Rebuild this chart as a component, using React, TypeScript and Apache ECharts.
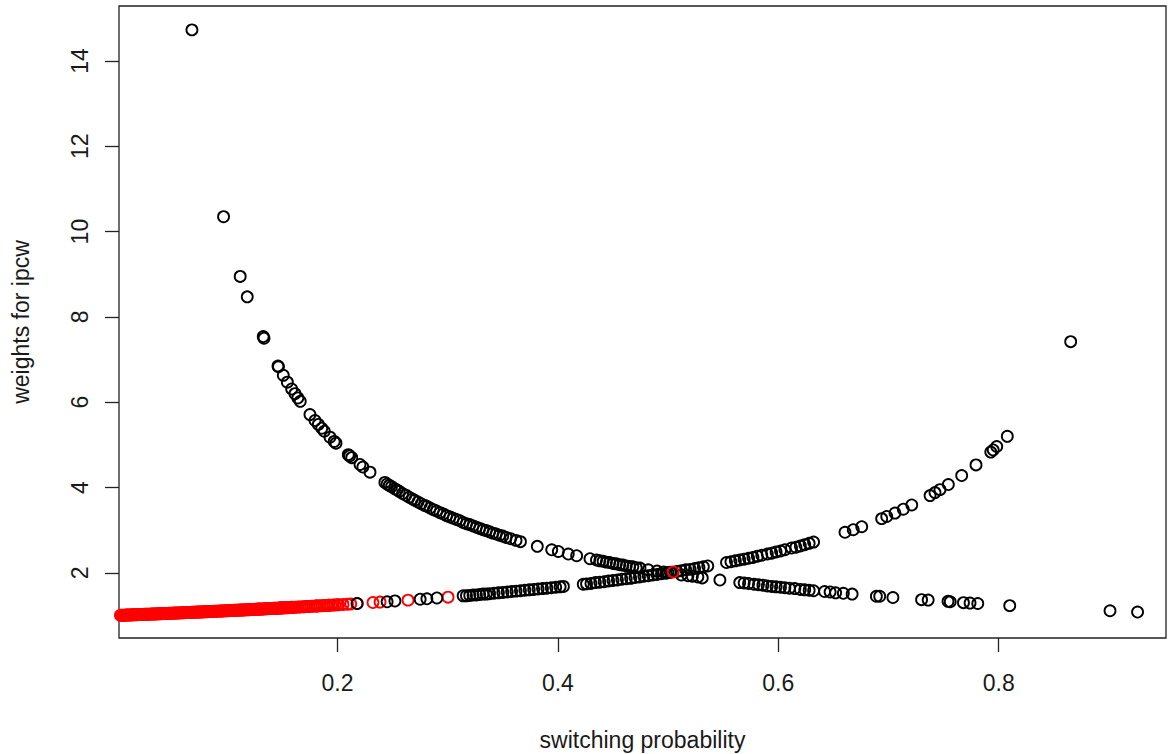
import React, { useEffect, useRef } from "react";
import * as echarts from "echarts";

// Inverse-probability weights plotted against the switching probability.
// Each entry is [switching probability, weight].

// Weights that fall as the probability rises (black circles).
const decliningBlack: [number, number][] = [
  [0.0679, 14.73], [0.0966, 10.35], [0.1117, 8.95], [0.1181, 8.47], [0.1326, 7.54], [0.1333, 7.5],
  [0.146, 6.85], [0.1464, 6.83], [0.1508, 6.63], [0.1545, 6.47], [0.1584, 6.31], [0.1614, 6.2],
  [0.164, 6.1], [0.1662, 6.02], [0.175, 5.71], [0.1796, 5.57], [0.1826, 5.48], [0.1857, 5.39],
  [0.188, 5.32], [0.1932, 5.18], [0.197, 5.08], [0.1986, 5.04], [0.2098, 4.77], [0.211, 4.74],
  [0.2129, 4.7], [0.2204, 4.54], [0.223, 4.48], [0.2295, 4.36],
  [0.243, 4.12], [0.245, 4.08], [0.247, 4.05], [0.249, 4.02], [0.252, 3.97], [0.254, 3.94],
  [0.256, 3.91], [0.259, 3.86], [0.262, 3.82], [0.265, 3.77], [0.268, 3.73], [0.27, 3.7],
  [0.273, 3.66], [0.276, 3.62], [0.279, 3.58], [0.281, 3.56], [0.284, 3.52], [0.287, 3.48],
  [0.29, 3.45], [0.293, 3.41], [0.296, 3.38], [0.299, 3.34], [0.302, 3.31], [0.305, 3.28],
  [0.308, 3.25], [0.311, 3.22], [0.314, 3.18], [0.317, 3.15], [0.32, 3.13], [0.323, 3.1],
  [0.326, 3.07], [0.329, 3.04], [0.332, 3.01], [0.335, 2.99], [0.338, 2.96], [0.341, 2.93],
  [0.344, 2.91], [0.347, 2.88], [0.35, 2.86], [0.353, 2.83], [0.357, 2.8], [0.362, 2.76],
  [0.366, 2.73],
  [0.3813, 2.62], [0.3944, 2.54], [0.4004, 2.5], [0.4094, 2.44], [0.417, 2.4], [0.4291, 2.33],
  [0.435, 2.3], [0.438, 2.28], [0.441, 2.27], [0.444, 2.25], [0.447, 2.24], [0.45, 2.22],
  [0.453, 2.21], [0.456, 2.19], [0.459, 2.18], [0.462, 2.16], [0.465, 2.15], [0.468, 2.14],
  [0.471, 2.12], [0.4745, 2.11], [0.482, 2.07], [0.49, 2.04], [0.496, 2.02], [0.5, 2.0],
  [0.512, 1.95], [0.518, 1.93], [0.522, 1.92], [0.527, 1.9], [0.531, 1.88], [0.547, 1.83],
  [0.565, 1.77], [0.569, 1.76], [0.573, 1.75], [0.578, 1.73], [0.582, 1.72], [0.586, 1.71],
  [0.59, 1.69], [0.594, 1.68], [0.598, 1.67], [0.602, 1.66], [0.606, 1.65], [0.61, 1.64],
  [0.615, 1.63], [0.62, 1.61], [0.624, 1.6], [0.628, 1.59], [0.632, 1.58], [0.642, 1.56],
  [0.647, 1.55], [0.652, 1.53], [0.659, 1.52], [0.667, 1.5], [0.689, 1.45], [0.692, 1.45],
  [0.704, 1.42], [0.73, 1.37], [0.736, 1.36], [0.754, 1.33], [0.756, 1.32], [0.768, 1.3],
  [0.774, 1.29], [0.781, 1.28], [0.81, 1.23], [0.901, 1.11], [0.926, 1.08],
];

// Weights that rise with the probability (black circles).
const risingBlack: [number, number][] = [
  [0.128, 1.15], [0.14, 1.16], [0.149, 1.18], [0.158, 1.19], [0.172, 1.21], [0.181, 1.22],
  [0.192, 1.24], [0.2177, 1.28], [0.245, 1.32], [0.2521, 1.34], [0.275, 1.38], [0.2811, 1.39],
  [0.2902, 1.41],
  [0.314, 1.46], [0.317, 1.46], [0.32, 1.47], [0.323, 1.48], [0.326, 1.48], [0.329, 1.49],
  [0.332, 1.5], [0.335, 1.5], [0.338, 1.51], [0.342, 1.52], [0.346, 1.53], [0.35, 1.54],
  [0.354, 1.55], [0.358, 1.56], [0.362, 1.57], [0.366, 1.58], [0.37, 1.59], [0.374, 1.6],
  [0.378, 1.61], [0.382, 1.62], [0.386, 1.63], [0.39, 1.64], [0.394, 1.65], [0.398, 1.66],
  [0.402, 1.67], [0.405, 1.68],
  [0.423, 1.73], [0.426, 1.74], [0.43, 1.75], [0.434, 1.77], [0.438, 1.78], [0.442, 1.79],
  [0.446, 1.81], [0.45, 1.82], [0.454, 1.83], [0.458, 1.85], [0.462, 1.86], [0.466, 1.87],
  [0.47, 1.89], [0.474, 1.9], [0.478, 1.92], [0.482, 1.93], [0.486, 1.95], [0.49, 1.96],
  [0.494, 1.98], [0.498, 1.99], [0.502, 2.01], [0.508, 2.03], [0.512, 2.05], [0.516, 2.07],
  [0.52, 2.08], [0.524, 2.1], [0.528, 2.12], [0.532, 2.14], [0.536, 2.16],
  [0.553, 2.24], [0.557, 2.26], [0.561, 2.28], [0.565, 2.3], [0.569, 2.32], [0.573, 2.34],
  [0.577, 2.36], [0.581, 2.39], [0.585, 2.41], [0.59, 2.44], [0.594, 2.46], [0.598, 2.49],
  [0.602, 2.51], [0.606, 2.54], [0.612, 2.58], [0.616, 2.6], [0.62, 2.63], [0.624, 2.66],
  [0.628, 2.69], [0.632, 2.72],
  [0.6605, 2.95], [0.668, 3.01], [0.6757, 3.08], [0.6938, 3.27], [0.6984, 3.32], [0.7059, 3.4],
  [0.7134, 3.49], [0.7211, 3.59], [0.7377, 3.81], [0.7422, 3.88], [0.7467, 3.95], [0.7543, 4.07],
  [0.7664, 4.28], [0.7794, 4.53], [0.7928, 4.83], [0.795, 4.88], [0.7982, 4.96], [0.8078, 5.2],
  [0.8653, 7.42],
];

// Rising weights of the highlighted group (red circles); very dense at low probabilities.
const risingRed: [number, number][] = [
  [0.003, 1.003], [0.004, 1.004], [0.005, 1.005], [0.006, 1.006], [0.007, 1.007], [0.008, 1.008],
  [0.009, 1.009], [0.01, 1.01], [0.011, 1.011], [0.012, 1.012], [0.013, 1.013], [0.014, 1.014],
  [0.015, 1.015], [0.016, 1.016], [0.017, 1.017], [0.018, 1.018], [0.019, 1.019], [0.02, 1.02],
  [0.021, 1.021], [0.022, 1.022], [0.023, 1.024], [0.024, 1.025], [0.025, 1.026], [0.026, 1.027],
  [0.027, 1.028], [0.028, 1.029], [0.029, 1.03], [0.03, 1.031], [0.031, 1.032], [0.032, 1.033],
  [0.033, 1.034], [0.034, 1.035], [0.035, 1.036], [0.036, 1.037], [0.037, 1.038], [0.038, 1.04],
  [0.039, 1.041], [0.04, 1.042], [0.041, 1.043], [0.042, 1.044], [0.043, 1.045], [0.044, 1.046],
  [0.045, 1.047], [0.046, 1.048], [0.047, 1.049], [0.048, 1.05], [0.049, 1.052], [0.05, 1.053],
  [0.051, 1.054], [0.052, 1.055], [0.053, 1.056], [0.054, 1.057], [0.055, 1.058], [0.056, 1.059],
  [0.057, 1.06], [0.058, 1.062], [0.059, 1.063], [0.06, 1.064], [0.061, 1.065], [0.062, 1.066],
  [0.063, 1.067], [0.064, 1.068], [0.065, 1.07], [0.066, 1.071], [0.067, 1.072], [0.068, 1.073],
  [0.069, 1.074], [0.07, 1.075], [0.071, 1.076], [0.072, 1.078], [0.073, 1.079], [0.074, 1.08],
  [0.075, 1.081], [0.076, 1.082], [0.077, 1.083], [0.078, 1.085], [0.079, 1.086], [0.08, 1.087],
  [0.081, 1.088], [0.082, 1.089], [0.083, 1.091], [0.084, 1.092], [0.085, 1.093], [0.086, 1.094],
  [0.087, 1.095], [0.088, 1.096], [0.089, 1.098], [0.09, 1.099], [0.091, 1.1], [0.092, 1.101],
  [0.093, 1.103], [0.094, 1.104], [0.095, 1.105], [0.096, 1.106], [0.097, 1.107], [0.098, 1.109],
  [0.099, 1.11], [0.1, 1.111], [0.101, 1.112], [0.102, 1.114], [0.103, 1.115], [0.104, 1.116],
  [0.105, 1.117], [0.106, 1.119], [0.107, 1.12], [0.108, 1.121], [0.109, 1.122], [0.11, 1.124],
  [0.111, 1.125], [0.112, 1.126], [0.113, 1.127], [0.114, 1.129], [0.115, 1.13], [0.116, 1.131],
  [0.117, 1.132], [0.118, 1.134], [0.119, 1.135], [0.12, 1.136], [0.121, 1.138], [0.122, 1.139],
  [0.123, 1.14], [0.124, 1.142], [0.125, 1.143], [0.126, 1.144], [0.127, 1.145], [0.128, 1.147],
  [0.129, 1.148], [0.13, 1.149], [0.131, 1.151], [0.132, 1.152], [0.133, 1.153], [0.134, 1.155],
  [0.135, 1.156], [0.136, 1.157], [0.137, 1.159], [0.138, 1.16], [0.139, 1.161], [0.14, 1.163],
  [0.141, 1.164], [0.142, 1.166], [0.143, 1.167], [0.144, 1.168], [0.145, 1.17], [0.146, 1.171],
  [0.147, 1.172], [0.148, 1.174], [0.149, 1.175], [0.15, 1.176], [0.151, 1.178], [0.152, 1.179],
  [0.153, 1.181], [0.154, 1.182], [0.155, 1.183], [0.156, 1.185], [0.157, 1.186], [0.158, 1.188],
  [0.159, 1.189], [0.16, 1.19], [0.162, 1.193], [0.164, 1.196], [0.166, 1.199], [0.168, 1.202],
  [0.17, 1.205], [0.172, 1.208], [0.174, 1.211], [0.176, 1.214], [0.178, 1.217], [0.18, 1.22],
  [0.182, 1.222], [0.184, 1.225], [0.186, 1.229], [0.188, 1.232], [0.19, 1.235], [0.192, 1.238],
  [0.194, 1.241], [0.196, 1.244], [0.1977, 1.246], [0.2, 1.25], [0.201, 1.252], [0.205, 1.258],
  [0.209, 1.264], [0.212, 1.269], [0.218, 1.279], [0.2322, 1.302], [0.2386, 1.313], [0.264, 1.359],
  [0.3003, 1.429], [0.5047, 2.019],
];

const xTicks = [0.2, 0.4, 0.6, 0.8];
const yTicks = [2, 4, 6, 8, 10, 12, 14];

const FONT = "'Liberation Sans', Arial, Helvetica, sans-serif";
const INK = "#1a1a1a";

function circles(data: [number, number][], color: string) {
  return {
    type: "scatter",
    data,
    symbol: "circle",
    symbolSize: 11,
    silent: true,
    itemStyle: { color: "rgba(0,0,0,0)", borderColor: color, borderWidth: 1.85, opacity: 1 },
  };
}

export default function App() {
  const ref = useRef<HTMLDivElement>(null);

  useEffect(() => {
    if (!ref.current) return;
    const chart = echarts.init(ref.current, null, { renderer: "svg" });
    // Painting order: the black rings inside the dense red band lie beneath it,
    // while the red ring at the crossing of the two curves sits on top.
    const blackUnderBand = risingBlack.filter((d) => d[0] < 0.2);
    const blackOverBand = risingBlack.filter((d) => d[0] >= 0.2);
    const redBand = risingRed.filter((d) => d[0] < 0.45);
    const redCross = risingRed.filter((d) => d[0] >= 0.45);
    chart.setOption({
      animation: false,
      backgroundColor: "#ffffff",
      textStyle: { fontFamily: FONT },
      grid: {
        left: 119,
        top: 6,
        right: 2,
        bottom: 116,
        show: true,
        borderColor: "#222",
        borderWidth: 1.3,
        backgroundColor: "transparent",
        outerBoundsMode: "none",
      },
      xAxis: {
        type: "value",
        min: 0.00172,
        max: 0.9518,
        name: "switching probability",
        nameLocation: "middle",
        nameGap: 90,
        nameTextStyle: { fontSize: 23, color: INK, fontFamily: FONT },
        axisLine: { show: false },
        splitLine: { show: false },
        axisTick: {
          show: true,
          length: 14,
          customValues: xTicks,
          lineStyle: { color: "#222", width: 1.3 },
        },
        axisLabel: {
          customValues: xTicks,
          fontSize: 23,
          color: INK,
          fontFamily: FONT,
          margin: 33,
          formatter: (v: number) => v.toFixed(1),
        },
      },
      yAxis: {
        type: "value",
        min: 0.471,
        max: 15.29,
        name: "weights for ipcw",
        nameLocation: "middle",
        nameGap: 87,
        nameRotate: 90,
        nameTextStyle: { fontSize: 23, color: INK, fontFamily: FONT },
        axisLine: { show: false },
        splitLine: { show: false },
        axisTick: {
          show: true,
          length: 14,
          customValues: yTicks,
          lineStyle: { color: "#222", width: 1.3 },
        },
        axisLabel: {
          customValues: yTicks,
          rotate: 90,
          fontSize: 23,
          color: INK,
          fontFamily: FONT,
          margin: 28,
          formatter: (v: number) => String(Math.round(v)),
        },
      },
      series: [
        circles(blackUnderBand, "#000000"),
        circles(redBand, "#ff0000"),
        circles(decliningBlack, "#000000"),
        circles(blackOverBand, "#000000"),
        circles(redCross, "#ff0000"),
      ],
    });
    return () => chart.dispose();
  }, []);

  return (
    <div
      ref={ref}
      style={{ position: "fixed", left: 0, top: 0, width: 1168, height: 754, background: "#fff" }}
    />
  );
}
